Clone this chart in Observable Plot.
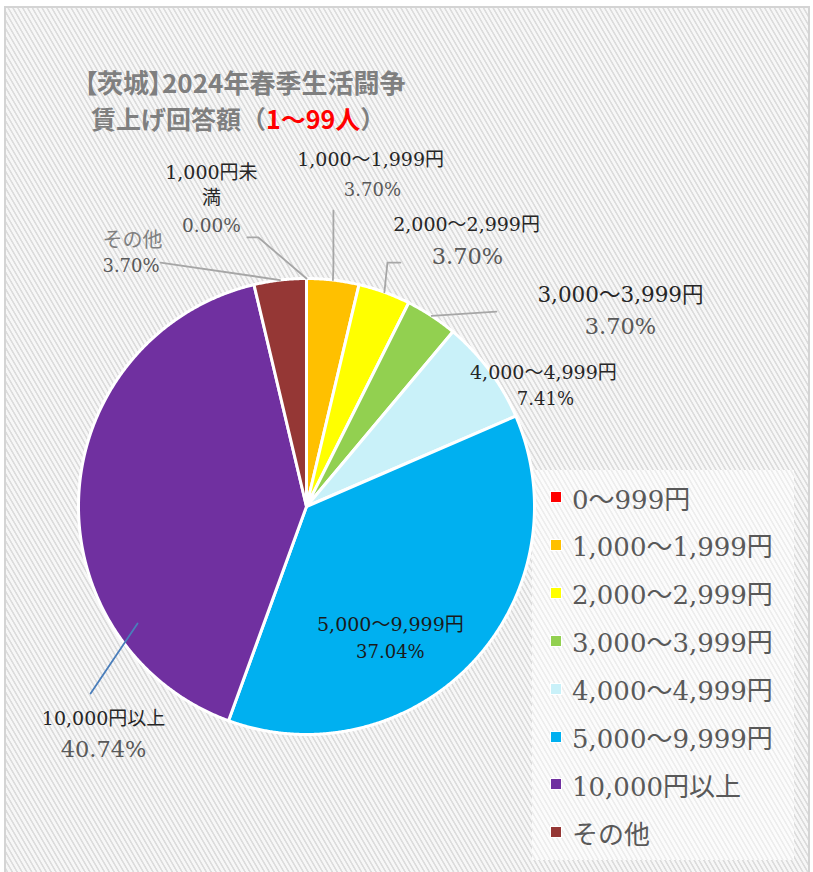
<!DOCTYPE html>
<html><head><meta charset="utf-8">
<script src="https://cdn.jsdelivr.net/npm/d3@7"></script>
<script src="https://cdn.jsdelivr.net/npm/@observablehq/plot@0.6"></script>
<style>
body{margin:0;background:#fff;}
#wrap{position:relative;width:813px;height:872px;overflow:hidden;background:#fff;}
#frame{position:absolute;left:4px;top:6px;width:806px;height:880px;border:2px solid #d4d4d4;box-sizing:border-box;
 background:repeating-linear-gradient(60deg,#f7f7f7 0px,#f7f7f7 2px,#dcdcdc 2.6px,#dcdcdc 3.6px,#f7f7f7 4.2px);}
#legendbox{position:absolute;left:532px;top:470px;width:262px;height:390px;
 background:repeating-linear-gradient(60deg,#fcfcfc 0px,#fcfcfc 2px,#ededed 2.6px,#ededed 3.6px,#fcfcfc 4.2px);}
#title{position:absolute;left:84px;top:63px;font-family:"Noto Sans CJK JP","Noto Sans",sans-serif;font-weight:700;
 font-size:26px;line-height:37px;color:#7f7f7f;white-space:nowrap;}
#title .l2{padding-left:7px;font-size:25px;}
#title .p{font-feature-settings:"palt";}
#title .red{color:#ff0000;}
.li{position:absolute;left:550px;height:30px;display:flex;align-items:center;font-family:"DejaVu Serif","Noto Sans CJK JP",serif;font-size:26px;color:#595959;white-space:nowrap;}
.li .sw{width:10px;height:10px;border:1px solid #fff;margin-right:10px;flex:none;}
#chart{position:absolute;left:0;top:0;}
</style></head>
<body><div id="wrap"><div id="frame"></div><div id="legendbox"></div><div id="chart"></div>
<div id="title"><div><span class="p">【茨城】</span>2024年春季生活闘争</div><div class="l2">賃上げ回答額（<span class="red">1～99人</span>）</div></div>
</div>
<script>
// ---- data ----
const categories = ["0～999円","1,000～1,999円","2,000～2,999円","3,000～3,999円","4,000～4,999円","5,000～9,999円","10,000円以上","その他"];
const percents = [0.00, 3.70, 3.70, 3.70, 7.41, 37.04, 40.74, 3.70];
const colors = ["#ff0000","#ffc000","#ffff00","#92d050","#c9f1f9","#00b0f0","#7030a0","#953735"];
const labelNames = ["1,000円未\n満","1,000～1,999円","2,000～2,999円","3,000～3,999円","4,000～4,999円","5,000～9,999円","10,000円以上","その他"];
const percentLabels = ["0.00%","3.70%","3.70%","3.70%","7.41%","37.04%","40.74%","3.70%"];

// ---- layout (data units: pie radius = 1) ----
const nameLayout = [
  {x:-0.417, y:[1.465,1.355], size:19, fill:"#262626", anchor:"middle"},
  {x:0.281, y:[1.518], size:19, fill:"#262626", anchor:"middle"},
  {x:0.702, y:[1.237], size:19, fill:"#262626", anchor:"middle"},
  {x:1.377, y:[0.925], size:21.5, fill:"#262626", anchor:"middle"},
  {x:1.039, y:[0.588], size:19, fill:"#262626", anchor:"middle"},
  {x:0.368, y:[-0.518], size:19, fill:"#1a1a1a", anchor:"middle"},
  {x:-0.890, y:[-0.930], size:19, fill:"#262626", anchor:"middle"},
  {x:-0.895, y:[1.167], size:20, fill:"#808080", anchor:"start"}
];
const valueLayout = [
  {x:-0.417, y:1.228, size:18.5, fill:"#595959", anchor:"middle"},
  {x:0.289, y:1.386, size:18, fill:"#595959", anchor:"middle"},
  {x:0.706, y:1.096, size:22.5, fill:"#595959", anchor:"middle"},
  {x:1.377, y:0.789, size:22.5, fill:"#595959", anchor:"middle"},
  {x:1.048, y:0.469, size:18, fill:"#262626", anchor:"middle"},
  {x:0.368, y:-0.640, size:18, fill:"#1a1a1a", anchor:"middle"},
  {x:-0.890, y:-1.066, size:22.5, fill:"#595959", anchor:"middle"},
  {x:-0.895, y:1.053, size:18, fill:"#595959", anchor:"start"}
];
// leader line elbows (before reaching slice edge)
const leaderLayout = [
  {pts:[[-0.259,1.180],[-0.211,1.180]], color:"#a6a6a6"},
  {pts:[[0.118,1.298],[0.118,1.05]], color:"#a6a6a6"},
  {pts:[[0.412,1.070],[0.355,1.070]], color:"#a6a6a6"},
  {pts:[[0.833,0.855]], color:"#a6a6a6"},
  null, null,
  {pts:[[-0.947,-0.820],[-0.741,-0.513]], color:"#4a7ebb", noEdge:true},
  {pts:[[-0.640,1.070]], color:"#a6a6a6"}
];

const data = categories.map((c,i)=>({cat:c, value:percents[i], i}));
const arcs = d3.pie().sort(null).value(d=>d.value)(data);

const slicePts = [];
arcs.filter(a=>a.data.value>0).forEach(a=>{
  const n = Math.max(4, Math.ceil((a.endAngle-a.startAngle)/0.005));
  slicePts.push({cat:a.data.cat, x:0, y:0});
  for(let k=0;k<=n;k++){const t=a.startAngle+(a.endAngle-a.startAngle)*k/n; slicePts.push({cat:a.data.cat, x:Math.sin(t), y:Math.cos(t)});}
});

const leaderPts = [];
arcs.forEach((a,i)=>{
  const L = leaderLayout[i]; if(!L) return;
  L.pts.forEach(p=>leaderPts.push({id:i, x:p[0], y:p[1], color:L.color}));
  if(!L.noEdge){const m=(a.startAngle+a.endAngle)/2; leaderPts.push({id:i, x:Math.sin(m), y:Math.cos(m), color:L.color});}
});

const nameText = [];
labelNames.forEach((s,i)=>{const L=nameLayout[i]; s.split("\n").forEach((line,j)=>nameText.push({text:line, x:L.x, y:L.y[j], size:L.size, fill:L.fill, anchor:L.anchor}));});
const valText = percentLabels.map((s,i)=>({text:s, ...valueLayout[i]}));

const textMarks = (arr)=>{
  const groups = d3.groups(arr, d=>d.fill+"|"+d.anchor);
  return groups.map(([k,g])=>Plot.text(g,{x:"x",y:"y",text:"text",fontSize:"size",fill:g[0].fill,textAnchor:g[0].anchor,
    fontFamily:"'DejaVu Serif','Noto Sans CJK JP',serif"}));
};

const plot = Plot.plot({
  width:813, height:872,
  marginLeft:78, marginRight:279, marginTop:278, marginBottom:138,
  x:{domain:[-1,1], axis:null},
  y:{domain:[-1,1], axis:null},
  color:{domain:categories, range:colors},
  style:{background:"transparent", overflow:"visible"},
  marks:[
    Plot.line(slicePts,{x:"x",y:"y",z:"cat",fill:"cat",stroke:"#ffffff",strokeWidth:3,curve:"linear-closed",strokeLinejoin:"round"}),
    ...d3.groups(leaderPts,d=>d.color).map(([c,g])=>Plot.line(g,{x:"x",y:"y",z:"id",stroke:c,strokeWidth:1.8})),
    ...textMarks(nameText),
    ...textMarks(valText)
  ]
});
document.getElementById("chart").appendChild(plot);

// legend
const wrap = document.getElementById("wrap");
categories.forEach((c,i)=>{
  const d = document.createElement("div");
  d.className="li";
  d.style.top = (482 + i*47.9)+"px";
  d.innerHTML = `<span class="sw" style="background:${colors[i]}"></span><span>${c}</span>`;
  wrap.appendChild(d);
});
</script>
</body></html>
